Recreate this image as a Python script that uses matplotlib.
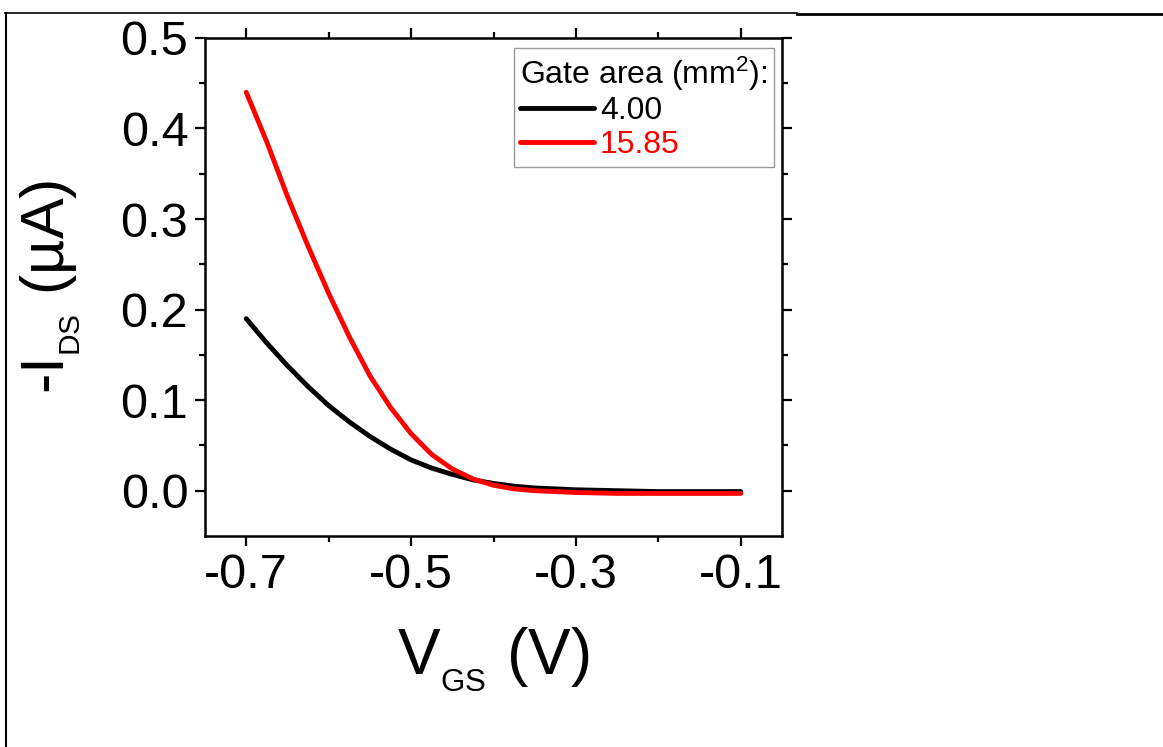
import matplotlib
matplotlib.use("Agg")
import matplotlib.pyplot as plt
from matplotlib.lines import Line2D

plt.rcParams['font.family'] = ['Liberation Sans', 'DejaVu Sans']
plt.rcParams['mathtext.fontset'] = 'custom'
plt.rcParams['mathtext.rm'] = 'Liberation Sans'
plt.rcParams['mathtext.it'] = 'Liberation Sans:italic'

# gate voltage (V)
v_gs = [-0.700, -0.675, -0.650, -0.625, -0.600, -0.575, -0.550, -0.525,
        -0.500, -0.475, -0.450, -0.425, -0.400, -0.375, -0.350, -0.300,
        -0.250, -0.200, -0.150, -0.100]
# -I_DS (uA) for each gate area
i_small = [0.190, 0.163, 0.138, 0.115, 0.094, 0.076, 0.060, 0.046,
           0.034, 0.025, 0.018, 0.012, 0.008, 0.005, 0.003, 0.001,
           0.000, -0.001, -0.001, -0.001]
i_large = [0.440, 0.385, 0.325, 0.270, 0.218, 0.170, 0.127, 0.092,
           0.063, 0.040, 0.024, 0.013, 0.006, 0.002, 0.000, -0.002,
           -0.003, -0.003, -0.003, -0.003]
labels = ["4.00", "15.85"]
colors = ["black", "red"]

fig = plt.figure(figsize=(11.63, 7.47), dpi=100)
ax = fig.add_axes([0.1763, 0.2825, 0.4961, 0.6667])

ax.plot(v_gs, i_small, color=colors[0], lw=3.5, label=labels[0],
        solid_capstyle='round')
ax.plot(v_gs, i_large, color=colors[1], lw=3.5, label=labels[1],
        solid_capstyle='round')

ax.set_xlim(-0.75, -0.05)
ax.set_ylim(-0.05, 0.5)
ax.set_xticks([-0.7, -0.5, -0.3, -0.1])
ax.set_xticklabels(["-0.7", "-0.5", "-0.3", "-0.1"])
ax.set_xticks([-0.6, -0.4, -0.2], minor=True)
ax.set_yticks([0.0, 0.1, 0.2, 0.3, 0.4, 0.5])
ax.set_yticks([0.05, 0.15, 0.25, 0.35, 0.45], minor=True)

ax.tick_params(which='both', direction='out', top=True, right=True,
               labeltop=False, labelright=False, width=1.6)
ax.tick_params(which='major', length=7, labelsize=35, pad=5)
ax.tick_params(which='minor', length=4)
for s in ax.spines.values():
    s.set_linewidth(1.8)

ax.set_xlabel(r"V$_{_{\rm GS}}$ (V)", fontsize=46, labelpad=20)
ax.set_ylabel(r"-I$_{_{\rm DS}}$ (µA)", fontsize=44, labelpad=28)

leg = ax.legend(title=r"Gate area (mm$^2$):", loc='upper right',
                bbox_to_anchor=(0.986, 0.98), borderaxespad=0,
                fontsize=23, title_fontsize=23, fancybox=False,
                edgecolor='gray', handlelength=2.3, handletextpad=0.2,
                borderpad=0.2, labelspacing=0.12, alignment='left')
leg.get_frame().set_linewidth(1.0)
for txt, c in zip(leg.get_texts(), colors):
    txt.set_color(c)

# table cell border around the figure
fig.add_artist(Line2D([5 / 1163, 797 / 1163], [1 - 13 / 747, 1 - 13 / 747],
                      transform=fig.transFigure, color='black', lw=1.2))
fig.add_artist(Line2D([797 / 1163, 1.0], [1 - 14 / 747, 1 - 14 / 747],
                      transform=fig.transFigure, color='black', lw=2.0))
fig.add_artist(Line2D([6 / 1163, 6 / 1163], [1 - 13 / 747, 0.0],
                      transform=fig.transFigure, color='black', lw=1.5))

fig.savefig("out.png", dpi=100)
